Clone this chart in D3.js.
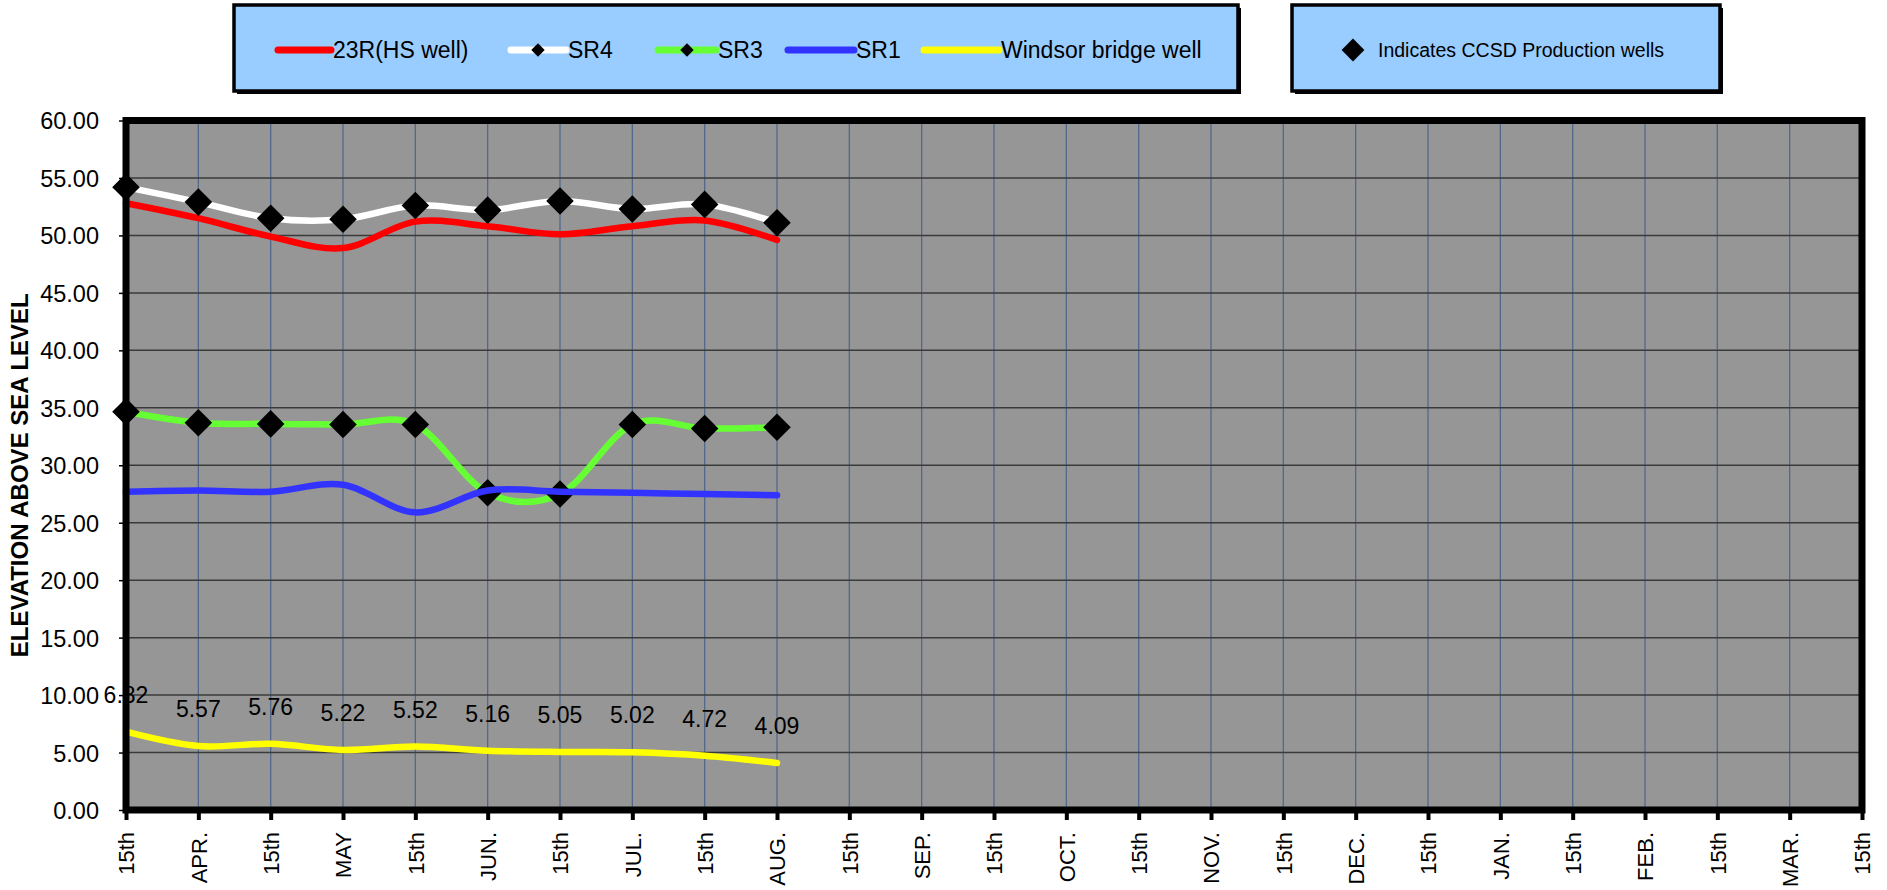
<!DOCTYPE html>
<html>
<head>
<meta charset="utf-8">
<script src="https://cdn.jsdelivr.net/npm/d3@7"></script>
<style>
  body { margin: 0; background: #fff; }
  svg { display: block; font-family: "Liberation Sans", Arial, sans-serif; }
</style>
</head>
<body>
<div id="chart"></div>
<script>
const categories = ["15th", "APR.", "15th", "MAY", "15th", "JUN.", "15th", "JUL.", "15th", "AUG.",
  "15th", "SEP.", "15th", "OCT.", "15th", "NOV.", "15th", "DEC.", "15th", "JAN.",
  "15th", "FEB.", "15th", "MAR.", "15th"];

const well23R = [52.8, 51.5, 49.9, 48.9, 51.2, 50.8, 50.1, 50.8, 51.3, 49.6];
const sr4 = [54.2, 52.9, 51.5, 51.4, 52.6, 52.2, 53.0, 52.3, 52.7, 51.1];
const sr3 = [34.65, 33.7, 33.6, 33.55, 33.55, 27.6, 27.5, 33.55, 33.2, 33.3];
const sr1 = [27.7, 27.8, 27.7, 28.3, 25.9, 27.8, 27.7, 27.6, 27.5, 27.4];
const windsor = [6.82, 5.57, 5.76, 5.22, 5.52, 5.16, 5.05, 5.02, 4.72, 4.09];

const yTicks = d3.range(0, 61, 5);

const series = [
  { name: "23R(HS well)", values: well23R, color: "#ff0000", marker: false },
  { name: "SR4", values: sr4, color: "#ffffff", marker: true },
  { name: "SR3", values: sr3, color: "#66ff33", marker: true },
  { name: "SR1", values: sr1, color: "#3333ff", marker: false },
  { name: "Windsor bridge well", values: windsor, color: "#ffff00", marker: false, labels: true }
];

const width = 1887, height = 890;
const plot = { left: 126, right: 1862, top: 120.5, bottom: 810 };

const svg = d3.select("#chart").append("svg")
  .attr("width", width)
  .attr("height", height);

const x = d3.scalePoint()
  .domain(d3.range(categories.length))
  .range([plot.left, plot.right]);

const y = d3.scaleLinear()
  .domain([0, 60])
  .range([plot.bottom, plot.top]);

svg.append("rect")
  .attr("x", plot.left).attr("y", plot.top)
  .attr("width", plot.right - plot.left).attr("height", plot.bottom - plot.top)
  .attr("fill", "#969696");

// gridlines
svg.append("g")
  .selectAll("line")
  .data(d3.range(categories.length))
  .join("line")
  .attr("x1", d => x(d)).attr("x2", d => x(d))
  .attr("y1", plot.top).attr("y2", plot.bottom)
  .attr("stroke", "#52698c")
  .attr("stroke-width", 1.3);

svg.append("g")
  .selectAll("line")
  .data(yTicks)
  .join("line")
  .attr("x1", plot.left).attr("x2", plot.right)
  .attr("y1", d => y(d)).attr("y2", d => y(d))
  .attr("stroke", "#3a3a3a")
  .attr("stroke-width", 1.5);

// axes
const yAxis = svg.append("g")
  .attr("transform", `translate(${plot.left},0)`)
  .call(d3.axisLeft(y).tickValues(yTicks).tickFormat(d3.format(".2f")).tickSize(7).tickPadding(20));
yAxis.select(".domain").remove();
yAxis.selectAll("line").attr("stroke", "#000").attr("stroke-width", 1.5);
yAxis.selectAll("text")
  .attr("fill", "#000")
  .style("font-size", "23.5px")
  .attr("dy", "0.36em");

const xAxis = svg.append("g")
  .attr("transform", `translate(0,${plot.bottom})`)
  .call(d3.axisBottom(x).tickFormat(i => categories[i]).tickSize(10).tickPadding(0));
xAxis.select(".domain").remove();
xAxis.selectAll("line").attr("stroke", "#000").attr("stroke-width", 4);
xAxis.selectAll("text")
  .attr("fill", "#000")
  .style("font-size", "22px")
  .attr("text-anchor", "end")
  .attr("transform", "rotate(-90)")
  .attr("x", -22)
  .attr("y", 0)
  .attr("dy", "0.36em");

svg.append("text")
  .attr("transform", `translate(28,${(plot.top + plot.bottom) / 2 + 10}) rotate(-90)`)
  .attr("text-anchor", "middle")
  .style("font-size", "24px")
  .style("font-weight", "bold")
  .text("ELEVATION ABOVE SEA LEVEL");

// series
const line = d3.line()
  .x((d, i) => x(i))
  .y(d => y(d))
  .curve(d3.curveCardinal);

const diamond = d3.symbol().type(d3.symbolSquare).size(380);

series.forEach(s => {
  svg.append("path")
    .datum(s.values)
    .attr("d", line)
    .attr("fill", "none")
    .attr("stroke", s.color)
    .attr("stroke-width", 6.5)
    .attr("stroke-linejoin", "round")
    .attr("stroke-linecap", "round");

  if (s.marker) {
    svg.append("g")
      .selectAll("path")
      .data(s.values)
      .join("path")
      .attr("d", diamond)
      .attr("transform", (d, i) => `translate(${x(i)},${y(d)}) rotate(45)`)
      .attr("fill", "#000");
  }

  if (s.labels) {
    svg.append("g")
      .selectAll("text")
      .data(s.values)
      .join("text")
      .attr("x", (d, i) => x(i))
      .attr("y", d => y(d) - 29)
      .attr("text-anchor", "middle")
      .style("font-size", "23px")
      .attr("fill", "#000")
      .text(d => d3.format(".2f")(d));
  }
});

// plot frame
svg.append("rect")
  .attr("x", plot.left).attr("y", plot.top)
  .attr("width", plot.right - plot.left).attr("height", plot.bottom - plot.top)
  .attr("fill", "none")
  .attr("stroke", "#000")
  .attr("stroke-width", 7);

// legends
const legendBox = (x0, y0, w, h) => {
  svg.append("rect")
    .attr("x", x0 + 3).attr("y", y0 + 3).attr("width", w).attr("height", h)
    .attr("fill", "#000");
  svg.append("rect")
    .attr("x", x0).attr("y", y0).attr("width", w).attr("height", h)
    .attr("fill", "#99ccff")
    .attr("stroke", "#000")
    .attr("stroke-width", 3.5);
};

legendBox(234, 5, 1004, 86);
legendBox(1292, 5, 428, 86);

const legendX = [278, 511, 658, 788, 924];
const legendW = [53, 55, 58, 66, 75];
const legendY = 50;

const legend = svg.append("g")
  .selectAll("g")
  .data(series)
  .join("g")
  .attr("transform", (d, i) => `translate(${legendX[i]},${legendY})`);

legend.append("line")
  .attr("x1", 0).attr("x2", (d, i) => legendW[i])
  .attr("stroke", d => d.color)
  .attr("stroke-width", 7)
  .attr("stroke-linecap", "round");

legend.filter(d => d.marker)
  .append("path")
  .attr("d", d3.symbol().type(d3.symbolSquare).size(90))
  .attr("transform", d => `translate(${d.name === "SR4" ? 27 : 29},0) rotate(45)`)
  .attr("fill", "#000");

legend.append("text")
  .attr("x", (d, i) => legendW[i] + 2)
  .attr("dy", "0.36em")
  .style("font-size", "23px")
  .attr("fill", "#000")
  .text(d => d.name);

svg.append("path")
  .attr("d", d3.symbol().type(d3.symbolSquare).size(260))
  .attr("transform", `translate(1353,${legendY}) rotate(45)`)
  .attr("fill", "#000");

svg.append("text")
  .attr("x", 1378)
  .attr("y", legendY)
  .attr("dy", "0.36em")
  .style("font-size", "19.5px")
  .attr("fill", "#000")
  .text("Indicates CCSD Production wells");
</script>
</body>
</html>
